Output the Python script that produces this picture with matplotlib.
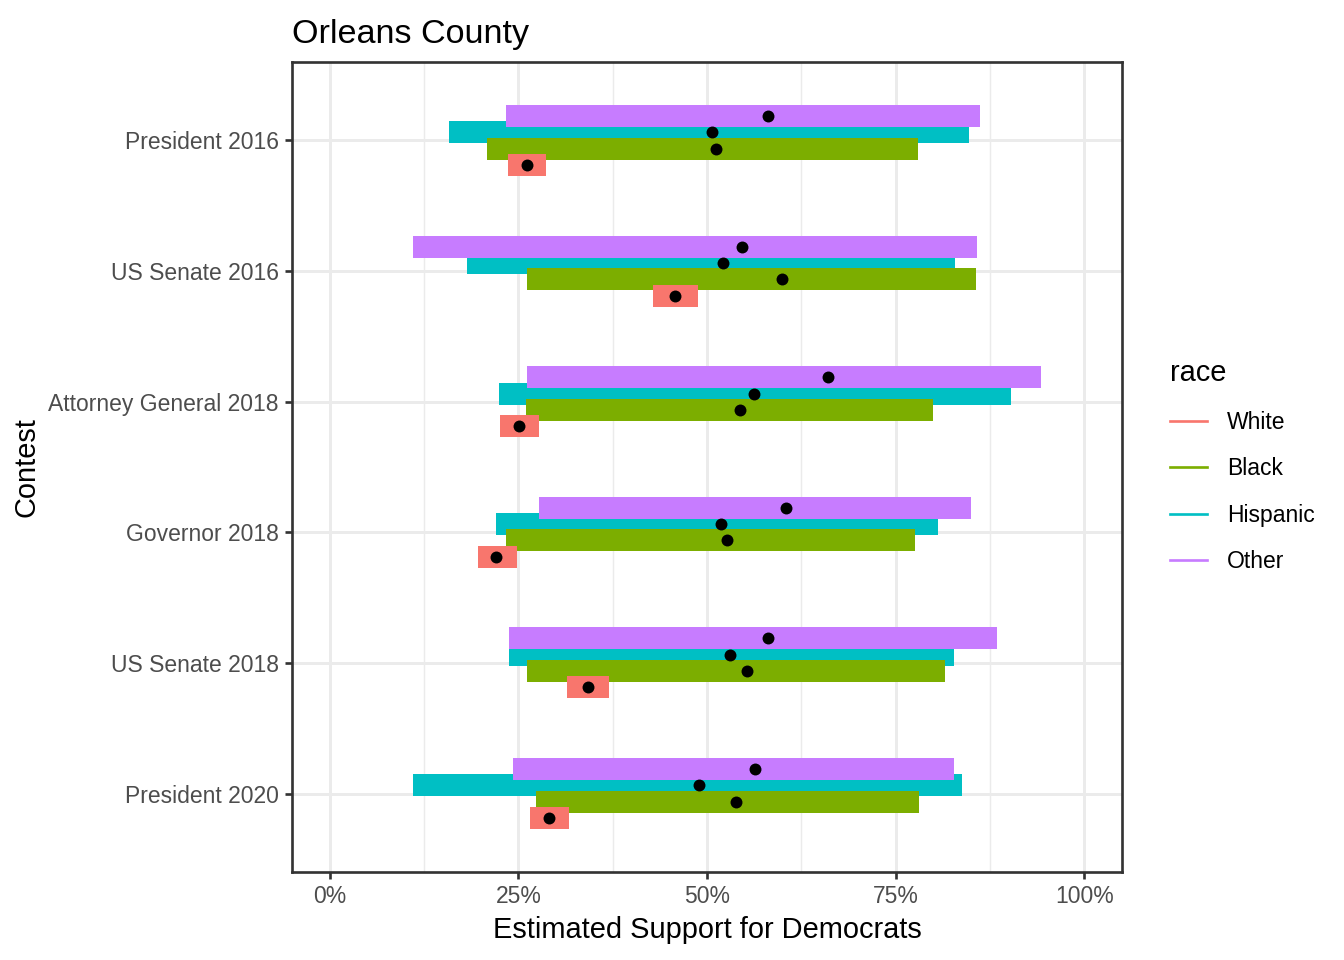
import matplotlib.pyplot as plt
from matplotlib.lines import Line2D
import numpy as np

plt.rcParams['font.family'] = ['Liberation Sans', 'DejaVu Sans']

# Contests, top to bottom
contests = ['President 2016', 'US Senate 2016', 'Attorney General 2018',
            'Governor 2018', 'US Senate 2018', 'President 2020']
races = ['White', 'Black', 'Hispanic', 'Other']
race_colors = {'White': '#F8766D', 'Black': '#7CAE00', 'Hispanic': '#00BFC4', 'Other': '#C77CFF'}

# estimates (%), one list per race, in contest order
white_est = [26.1, 45.7, 25.1, 22.1, 34.2, 29.0]
white_lo = [23.6, 42.9, 22.5, 19.7, 31.5, 26.6]
white_hi = [28.7, 48.8, 27.8, 24.8, 37.0, 31.7]

black_est = [51.2, 59.9, 54.4, 52.7, 55.3, 53.9]
black_lo = [20.9, 26.2, 26.0, 23.4, 26.1, 27.4]
black_hi = [78.0, 85.7, 80.0, 77.6, 81.6, 78.1]

hispanic_est = [50.7, 52.1, 56.2, 51.8, 53.0, 49.0]
hispanic_lo = [15.8, 18.2, 22.4, 22.0, 23.7, 11.1]
hispanic_hi = [84.7, 82.9, 90.3, 80.6, 82.7, 83.8]

other_est = [58.1, 54.7, 66.1, 60.5, 58.1, 56.3]
other_lo = [23.4, 11.0, 26.2, 27.8, 23.7, 24.3]
other_hi = [86.2, 85.8, 94.3, 85.0, 88.4, 82.7]

est = {'White': white_est, 'Black': black_est, 'Hispanic': hispanic_est, 'Other': other_est}
lo = {'White': white_lo, 'Black': black_lo, 'Hispanic': hispanic_lo, 'Other': other_lo}
hi = {'White': white_hi, 'Black': black_hi, 'Hispanic': hispanic_hi, 'Other': other_hi}

# dodge offsets (White lowest, Other highest) and stacking order
offsets = {'White': -0.1875, 'Black': -0.0625, 'Hispanic': 0.0625, 'Other': 0.1875}
zorders = {'White': 4, 'Black': 3, 'Hispanic': 2, 'Other': 3}

fig = plt.figure(figsize=(7, 5), dpi=192)
ax = fig.add_axes([292 / 1344, 88 / 960, 830 / 1344, 810 / 960])

# contests plotted from top (6) down to bottom (1)
ypos = np.arange(len(contests), 0, -1)

for race in races:
    y = ypos + offsets[race]
    ax.hlines(y, np.array(lo[race]) / 100, np.array(hi[race]) / 100,
              color=race_colors[race], linewidth=8.25, capstyle='butt', zorder=zorders[race])
    ax.scatter(np.array(est[race]) / 100, y, s=20, color='black', zorder=10, linewidths=0)

ax.set_xlim(-0.05, 1.05)
ax.set_ylim(0.4, len(contests) + 0.6)
ax.set_xticks([0, 0.25, 0.5, 0.75, 1.0])
ax.set_xticklabels(['0%', '25%', '50%', '75%', '100%'])
ax.set_xticks([0.125, 0.375, 0.625, 0.875], minor=True)
ax.set_yticks(ypos)
ax.set_yticklabels(contests)

ax.grid(True, which='major', color='#EBEBEB', linewidth=1.1, zorder=0)
ax.grid(True, which='minor', axis='x', color='#EBEBEB', linewidth=0.55, zorder=0)
ax.set_axisbelow(True)
for s in ax.spines.values():
    s.set_color('#333333')
    s.set_linewidth(1.0)
ax.tick_params(axis='both', which='major', colors='#333333', labelcolor='#4D4D4D',
               labelsize=8.6, length=2.75, width=1.0, pad=2.2)
ax.tick_params(axis='x', which='minor', length=0)

ax.set_xlabel('Estimated Support for Democrats', fontsize=10.9, labelpad=3)
ax.set_ylabel('Contest', fontsize=10.9, labelpad=3)
ax.set_title('Orleans County', fontsize=12.8, loc='left', pad=7)

handles = [Line2D([0], [0], color=race_colors[r], linewidth=1.0) for r in races]
leg = fig.legend(handles, races, title='race', loc='upper left',
                 bbox_to_anchor=(1170 / 1344, 1 - 359 / 960), frameon=False,
                 fontsize=8.6, title_fontsize=10.9, handlelength=1.62,
                 handletextpad=0.87, labelspacing=1.03, borderpad=0, borderaxespad=0)
leg._legend_box.align = 'left'

fig.savefig('out.png', dpi=192)
